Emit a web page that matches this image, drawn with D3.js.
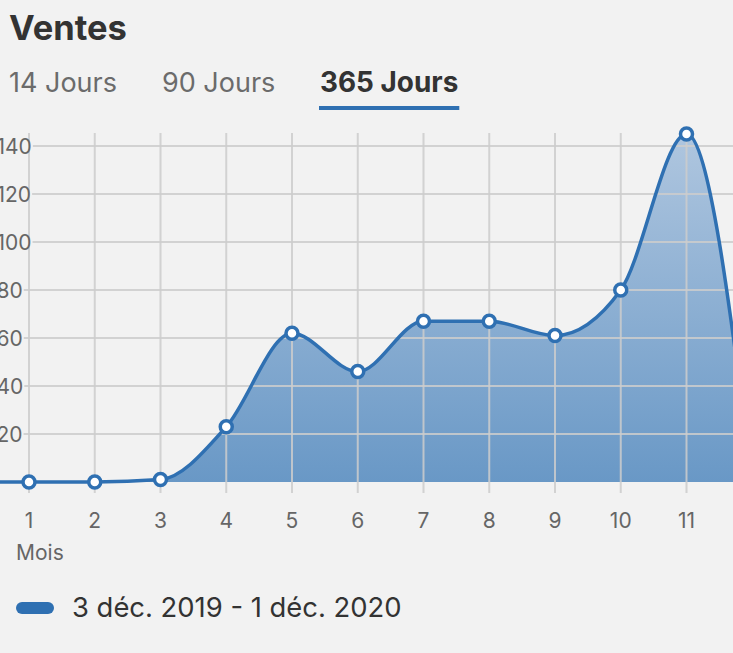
<!DOCTYPE html>
<html>
<head>
<meta charset="utf-8">
<script src="https://cdn.jsdelivr.net/npm/d3@7"></script>
<style>
  html, body { margin: 0; padding: 0; background: #f2f2f2; }
  svg { display: block; font-family: Inter, Roboto, "Noto Sans", sans-serif; }
</style>
</head>
<body>
<svg id="chart" width="733" height="653"></svg>
<script>
// months (0 = previous point left of the crop, 12 = right of it)
const months = [0, 1, 2, 3, 4, 5, 6, 7, 8, 9, 10, 11, 12];
const sales = [0, 0, 0, 1, 23, 62, 46, 67, 67, 61, 80, 145, 0];
const yTicks = [20, 40, 60, 80, 100, 120, 140];
const tabs = ["14 Jours", "90 Jours", "365 Jours"];
const activeTab = "365 Jours";
const legendLabel = "3 déc. 2019 - 1 déc. 2020";

const width = 733, height = 653;
const blue = "#2f70b2";

const svg = d3.select("#chart");

const x = d3.scaleLinear().domain([1, 11]).range([29, 686.5]);
const y = d3.scaleLinear().domain([0, 145]).range([482, 134]);

// header
svg.append("text")
    .attr("x", 9).attr("y", 40)
    .attr("font-size", 34.5).attr("font-weight", "bold")
    .attr("fill", "#333")
    .text("Ventes");

const tabX = [9, 162, 320];
tabs.forEach((t, i) => {
    const on = t === activeTab;
    const txt = svg.append("text")
        .attr("x", tabX[i]).attr("y", 92)
        .attr("font-size", on ? 27.9 : 27)
        .attr("font-weight", on ? "bold" : "normal")
        .attr("fill", on ? "#333" : "#6b6b6b")
        .text(t);
    if (on) {
        const w = txt.node().getComputedTextLength();
        svg.append("rect")
            .attr("x", tabX[i] - 1).attr("y", 106)
            .attr("width", w + 2).attr("height", 4)
            .attr("fill", blue);
    }
});

// gradient for the area
const grad = svg.append("defs").append("linearGradient")
    .attr("id", "fillGrad")
    .attr("gradientUnits", "userSpaceOnUse")
    .attr("x1", 0).attr("y1", y(145)).attr("x2", 0).attr("y2", y(0));
grad.append("stop").attr("offset", 0).attr("stop-color", "#afc6df");
grad.append("stop").attr("offset", 1).attr("stop-color", "#6998c6");

const pts = months.map((m, i) => [m, sales[i]]);

const area = d3.area()
    .x(d => x(d[0]))
    .y0(y(0))
    .y1(d => y(d[1]))
    .curve(d3.curveMonotoneX);

const line = d3.line()
    .x(d => x(d[0]))
    .y(d => y(d[1]))
    .curve(d3.curveMonotoneX);

svg.append("path")
    .datum(pts)
    .attr("d", area)
    .attr("fill", "url(#fillGrad)");

// grid on top of the fill
const gridCol = "rgba(205,205,205,0.85)";
const grid = svg.append("g");

grid.selectAll("line.v")
    .data(months)
    .join("line")
    .attr("class", "v")
    .attr("x1", d => x(d)).attr("x2", d => x(d))
    .attr("y1", 133).attr("y2", 493)
    .attr("stroke", gridCol).attr("stroke-width", 2);

const yLab = svg.append("g");
yTicks.forEach(v => {
    const t = yLab.append("text")
        .attr("x", -3.5).attr("y", y(v) + 7.5)
        .attr("font-size", 21).attr("fill", "#666")
        .text(v);
    const end = -3.5 + t.node().getComputedTextLength();
    grid.append("line")
        .attr("x1", Math.max(18, end + 1)).attr("x2", width)
        .attr("y1", y(v)).attr("y2", y(v))
        .attr("stroke", gridCol).attr("stroke-width", 2);
});

// line + points
svg.append("path")
    .datum(pts)
    .attr("d", line)
    .attr("fill", "none")
    .attr("stroke", blue)
    .attr("stroke-width", 3.5);

svg.append("g").selectAll("circle")
    .data(pts)
    .join("circle")
    .attr("cx", d => x(d[0]))
    .attr("cy", d => y(d[1]))
    .attr("r", 6)
    .attr("fill", "#fff")
    .attr("stroke", blue)
    .attr("stroke-width", 3.5);

// x labels (only those inside the visible crop)
svg.append("g").selectAll("text")
    .data(months.filter(m => x(m) > 0 && x(m) < width))
    .join("text")
    .attr("x", d => x(d))
    .attr("y", 528)
    .attr("text-anchor", "middle")
    .attr("font-size", 21)
    .attr("fill", "#666")
    .text(d => d);

svg.append("text")
    .attr("x", 16).attr("y", 560)
    .attr("font-size", 21).attr("fill", "#666")
    .text("Mois");

// legend
svg.append("rect")
    .attr("x", 16).attr("y", 602)
    .attr("width", 38).attr("height", 12)
    .attr("rx", 6)
    .attr("fill", blue);

svg.append("text")
    .attr("x", 72).attr("y", 617)
    .attr("font-size", 27.4).attr("fill", "#333")
    .text(legendLabel);
</script>
</body>
</html>
